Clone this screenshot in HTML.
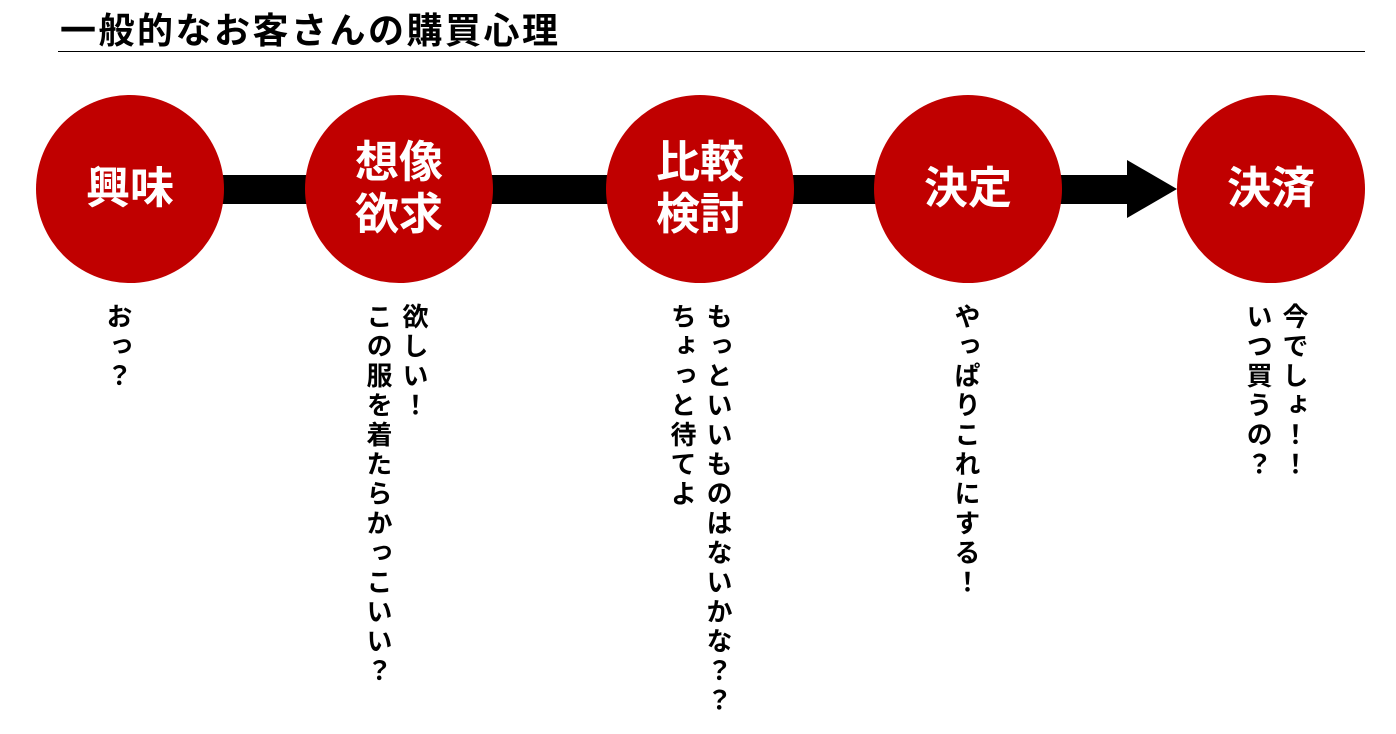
<!DOCTYPE html>
<html><head><meta charset="utf-8"><style>
body{margin:0;width:1396px;height:734px;background:#fff;position:relative;overflow:hidden;font-family:"Liberation Sans","Noto Sans CJK JP",sans-serif;}
.title{position:absolute;left:60px;top:2px;font-size:36px;font-weight:bold;color:#000;letter-spacing:2.5px;}
.line{position:absolute;left:58px;top:51px;width:1307px;height:1px;background:#000;}
.bar{position:absolute;left:215px;top:175px;width:915px;height:29px;background:#000;}
.head{position:absolute;left:1127px;top:160px;width:0;height:0;border-top:29px solid transparent;border-bottom:29px solid transparent;border-left:50px solid #000;}
.c{position:absolute;top:95px;width:188px;height:188px;border-radius:50%;background:#c00000;color:#fff;font-weight:bold;font-size:44px;display:flex;align-items:center;justify-content:center;text-align:center;line-height:52px;}
.v{position:absolute;top:303px;writing-mode:vertical-rl;font-weight:bold;font-size:26px;letter-spacing:3.5px;line-height:36px;color:#000;}
</style></head><body>
<div class="title">一般的なお客さんの購買心理</div>
<div class="line"></div>
<div class="bar"></div><div class="head"></div>
<div class="c" style="left:36px">興味</div>
<div class="c" style="left:305px">想像<br>欲求</div>
<div class="c" style="left:606px">比較<br>検討</div>
<div class="c" style="left:874px">決定</div>
<div class="c" style="left:1177px">決済</div>
<div class="v" style="left:100px">おっ？</div>
<div class="v" style="left:360px">欲しい！<br>この服を着たらかっこいい？</div>
<div class="v" style="left:664px">もっといいものはないかな？？<br>ちょっと待てよ</div>
<div class="v" style="left:948px">やっぱりこれにする！</div>
<div class="v" style="left:1240px">今でしょ！！<br>いつ買うの？</div>
</body></html>
